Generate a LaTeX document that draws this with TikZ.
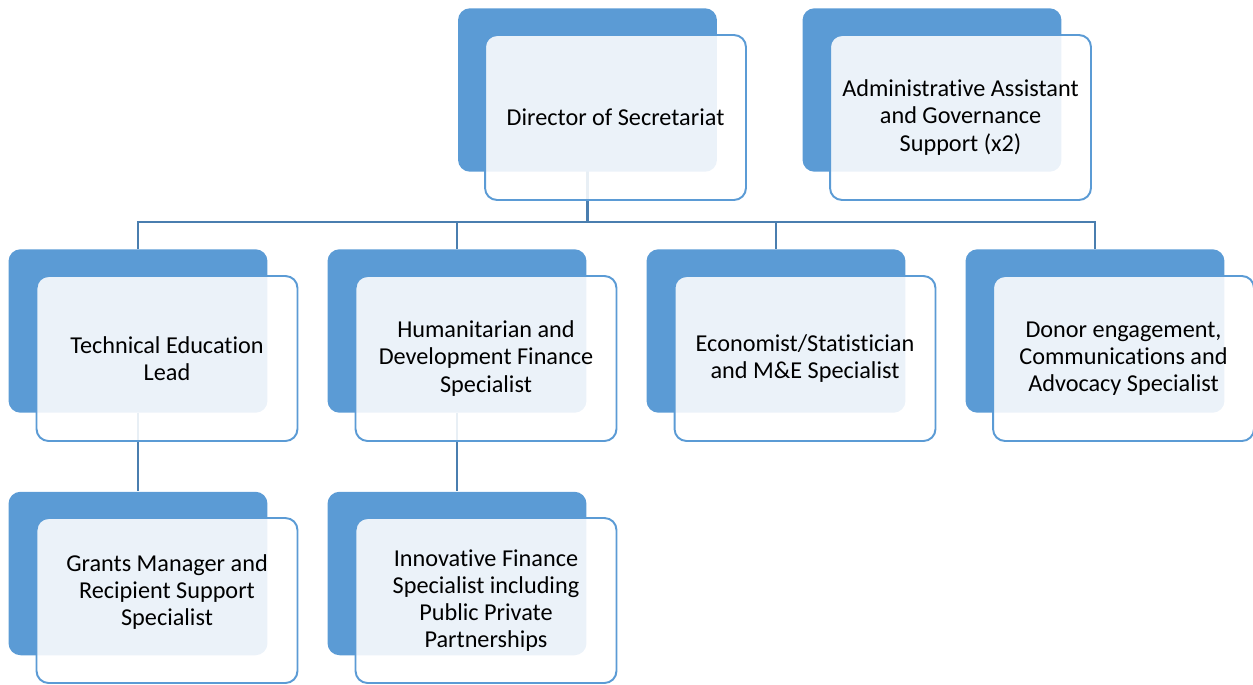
\documentclass[tikz,border=0pt]{standalone}
\usepackage{fontspec}
\setmainfont{Carlito}[Ligatures=NoCommon]
\usepackage{tikz}
\usetikzlibrary{positioning,calc}

\definecolor{unitblue}{HTML}{5B9BD5}
\definecolor{linkblue}{HTML}{4A7EAF}

\pgfdeclarelayer{wires}
\pgfsetlayers{wires,main}

\tikzset{
    backbox/.style={rectangle, rounded corners=0.24cm, fill=unitblue,
        minimum width=5.18cm, minimum height=3.27cm, inner sep=0pt},
    frontbox/.style={rectangle, rounded corners=0.24cm, draw=unitblue, line width=1.1pt,
        fill=white, fill opacity=0.88, text opacity=1, align=center,
        minimum width=5.22cm, minimum height=3.3cm, inner sep=0pt,
        font=\fontsize{13.8}{15.4}\selectfont},
    link/.style={draw=linkblue, line width=1.2pt}
}

\begin{document}
\begin{tikzpicture}[x=0.02cm, y=-0.02cm]
    \useasboundingbox (0,0) rectangle (1253,684);

    % top row
    \node[backbox] (dirB) at (587.5,90) {};
    \node[frontbox] (dir) at (615.5,117.5) {Director of Secretariat};
    \node[backbox] (admB) at (932,90) {};
    \node[frontbox] (adm) at (960.5,117.5) {Administrative Assistant\\and Governance\\Support (x2)};

    % second row
    \node[backbox] (techB) at (138,331) {};
    \node[frontbox] (tech) at (167,358.5) {Technical Education\\Lead};
    \node[backbox] (hdfB) at (457,331) {};
    \node[frontbox] (hdf) at (486,358.5) {Humanitarian and\\Development Finance\\Specialist};
    \node[backbox] (econB) at (776,331) {};
    \node[frontbox] (econ) at (805,358.5) {Economist/Statistician\\and M\&E Specialist};
    \node[backbox] (donB) at (1095,331) {};
    \node[frontbox] (don) at (1123.5,358.5) {Donor engagement,\\Communications and\\Advocacy Specialist};

    % third row
    \node[backbox] (grantB) at (138,573.5) {};
    \node[frontbox] (grant) at (167,600.5) {Grants Manager and\\Recipient Support\\Specialist\\[-4pt]\mbox{}};
    \node[backbox] (innoB) at (457,573.5) {};
    \node[frontbox] (inno) at (486,600.5) {Innovative Finance\\Specialist including\\Public Private\\Partnerships};

    % reporting lines
    \begin{pgfonlayer}{wires}
        \coordinate (bus) at (587.5,222);
        \draw[link] (dirB.center) -- (bus);
        \draw[link] (techB.north) |- (bus);
        \draw[link] (hdfB.north) |- (bus);
        \draw[link] (econB.north) |- (bus);
        \draw[link] (donB.north) |- (bus);
        \draw[link] (techB.south) -- (grantB.north);
        \draw[link] (hdfB.south) -- (innoB.north);
    \end{pgfonlayer}
\end{tikzpicture}
\end{document}
